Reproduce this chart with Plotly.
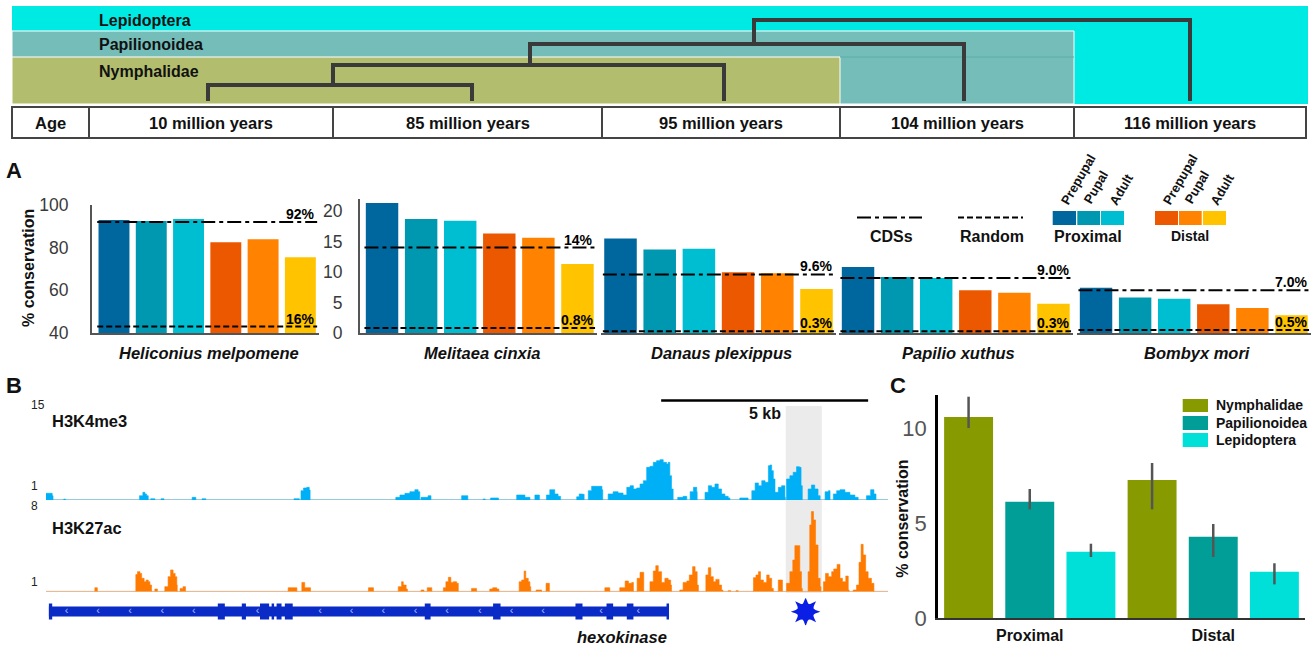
import plotly.graph_objects as go

W, H = 1314, 648
FONT = "Liberation Sans, Arial, sans-serif"

# ---------------- data ----------------
# Panel A: % conservation of enhancers per species (Prepupal, Pupal, Adult)
species = ["Heliconius melpomene", "Melitaea cinxia", "Danaus plexippus",
           "Papilio xuthus", "Bombyx mori"]
stages = ["Prepupal", "Pupal", "Adult"]
proximal = {
    "Heliconius melpomene": [93.0, 92.5, 93.4],
    "Melitaea cinxia": [21.3, 18.7, 18.4],
    "Danaus plexippus": [15.5, 13.7, 13.8],
    "Papilio xuthus": [10.8, 9.2, 9.0],
    "Bombyx mori": [7.4, 5.8, 5.6],
}
distal = {
    "Heliconius melpomene": [82.5, 83.9, 75.5],
    "Melitaea cinxia": [16.3, 15.6, 11.3],
    "Danaus plexippus": [9.95, 9.8, 7.2],
    "Papilio xuthus": [7.0, 6.6, 4.8],
    "Bombyx mori": [4.7, 4.1, 2.9],
}
cds_pct = [92, 14, 9.6, 9.0, 7.0]
random_pct = [16, 0.8, 0.3, 0.3, 0.5]
cds_labels = ["92%", "14%", "9.6%", "9.0%", "7.0%"]
random_labels = ["16%", "0.8%", "0.3%", "0.3%", "0.5%"]

# Phylogeny age table
age_labels = ["10 million years", "85 million years", "95 million years",
              "104 million years", "116 million years"]
clades = ["Lepidoptera", "Papilionoidea", "Nymphalidae"]

# Panel B: ChIP signal around hexokinase, peaks as (kb, signal) points
h3k4me3_peaks = [
    [(0.00, 1.06), (0.10, 1.06), (0.15, 0.68), (0.17, 0)],
    [(0.43, 0), (0.43, 0.15), (0.47, 0.15), (0.47, 0)],
    [(2.25, 0), (2.26, 0.68), (2.34, 1.21), (2.39, 0.95), (2.43, 0.68), (2.47, 0.68), (2.47, 0)],
    [(2.53, 0), (2.53, 0.2), (2.63, 0.2), (2.63, 0)],
    [(2.78, 0), (2.78, 0.2), (2.85, 0.2), (2.85, 0)],
    [(3.52, 0), (3.53, 0.42), (3.61, 0.42), (3.62, 0)],
    [(3.77, 0), (3.77, 0.2), (3.86, 0.2), (3.86, 0)],
    [(5.99, 0), (5.99, 0.2), (6.12, 0.2), (6.12, 0)],
    [(6.16, 0), (6.16, 1.47), (6.22, 1.9), (6.30, 2.0), (6.36, 1.58), (6.38, 0)],
    [(8.45, 0), (8.45, 0.42), (8.53, 0.42), (8.55, 0.79), (8.65, 0.79), (8.67, 1.05),
     (8.79, 1.31), (8.91, 1.63), (8.99, 1.31), (9.03, 0.9), (9.03, 0)],
    [(9.06, 0), (9.06, 0.42), (9.20, 0.42), (9.23, 0.68), (9.30, 0.68), (9.30, 0)],
    [(10.04, 0), (10.04, 0.68), (10.19, 0.68), (10.19, 0)],
    [(10.56, 0), (10.56, 0.16), (10.61, 0.16), (10.61, 0)],
    [(10.74, 0), (10.74, 0.32), (10.93, 0.32), (10.93, 0)],
    [(11.37, 0), (11.37, 0.79), (11.53, 0.79), (11.57, 0.42), (11.69, 0.42), (11.69, 0)],
    [(11.81, 0), (11.81, 0.79), (11.92, 0.79), (11.92, 0)],
    [(12.09, 0), (12.09, 0.79), (12.17, 1.63), (12.25, 1.63), (12.29, 0.95), (12.37, 0.58),
     (12.43, 0.58), (12.43, 0)],
    [(12.80, 0), (12.82, 0.5), (12.88, 0.95), (12.96, 0.9), (13.00, 0)],
    [(13.10, 0), (13.10, 1.47), (13.18, 2.16), (13.38, 2.16), (13.43, 1.6), (13.45, 0)],
    [(13.54, 0), (13.58, 0.95), (13.70, 1.31), (13.82, 1.10), (13.94, 0.79), (14.03, 2.0),
     (14.11, 2.26), (14.19, 1.74), (14.27, 1.9), (14.35, 2.53), (14.43, 3.05), (14.51, 5.16),
     (14.59, 5.32), (14.67, 5.95), (14.75, 6.21), (14.83, 6.37), (14.91, 5.95), (14.99, 5.69),
     (15.03, 5.95), (15.07, 3.84), (15.11, 1.74), (15.15, 0)],
    [(15.26, 0), (15.26, 0.42), (15.35, 0.42), (15.39, 0.58), (15.48, 0.58), (15.48, 0)],
    [(15.51, 0), (15.56, 1.31), (15.64, 2.0), (15.72, 1.31), (15.73, 0)],
    [(15.90, 0), (15.92, 1.21), (16.00, 2.26), (16.08, 2.0), (16.16, 2.53), (16.24, 1.74),
     (16.32, 0.95), (16.40, 0.58), (16.48, 0.32), (16.52, 0)],
    [(16.76, 0), (16.76, 0.32), (16.96, 0.32), (16.96, 0)],
    [(17.00, 0), (17.05, 1.47), (17.13, 2.69), (17.21, 2.26), (17.29, 3.05), (17.37, 2.79),
     (17.45, 5.42), (17.49, 5.53), (17.53, 4.63), (17.57, 3.32), (17.61, 1.21), (17.69, 2.0),
     (17.77, 2.26), (17.85, 0.42), (17.86, 0)],
    [(17.87, 0), (17.89, 3.32), (17.97, 3.84), (18.05, 4.37), (18.13, 5.26), (18.20, 5.16),
     (18.24, 2.26), (18.27, 0)],
    [(18.39, 0), (18.41, 1.74), (18.49, 2.37), (18.57, 1.74), (18.65, 0.68), (18.70, 0)],
    [(18.76, 0), (18.82, 1.31), (18.90, 1.47), (18.94, 0)],
    [(18.98, 0), (19.02, 0.95), (19.10, 1.47), (19.18, 1.63), (19.30, 1.21), (19.42, 0.79),
     (19.54, 0.42), (19.62, 0)],
    [(19.78, 0), (19.82, 0.68), (19.92, 1.63), (20.00, 0.95), (20.05, 0)],
]
h3k27ac_peaks = [
    [(1.18, 0), (1.18, 0.37), (1.24, 0.37), (1.24, 0)],
    [(2.17, 0), (2.17, 1.6), (2.21, 1.87), (2.27, 1.71), (2.31, 1.25), (2.37, 0.93), (2.42, 1.09),
     (2.47, 0.93), (2.51, 0.62), (2.55, 0)],
    [(2.63, 0), (2.63, 0.25), (2.69, 0.25), (2.69, 0)],
    [(2.85, 0), (2.87, 0.47), (2.95, 1.40), (3.01, 2.03), (3.07, 1.71), (3.12, 1.40), (3.16, 0.62),
     (3.17, 0)],
    [(3.24, 0), (3.24, 0.31), (3.30, 0.31), (3.31, 0.47), (3.37, 0.47), (3.37, 0)],
    [(5.85, 0), (5.85, 0.37), (6.06, 0.37), (6.06, 0)],
    [(6.18, 0), (6.18, 0.87), (6.24, 0.87), (6.25, 0.37), (6.39, 0.37), (6.39, 0)],
    [(7.79, 0), (7.79, 0.37), (7.91, 0.37), (7.91, 0)],
    [(8.47, 0), (8.51, 0.47), (8.59, 0.93), (8.63, 0.62), (8.70, 0.25), (8.73, 0)],
    [(9.06, 0), (9.06, 0.16), (9.13, 0.16), (9.13, 0)],
    [(9.21, 0), (9.21, 0.37), (9.32, 0.37), (9.32, 0)],
    [(9.56, 0), (9.60, 0.37), (9.66, 0.93), (9.72, 1.34), (9.78, 0.87), (9.84, 0.93), (9.92, 0.78),
     (9.96, 0)],
    [(10.28, 0), (10.28, 0.31), (10.40, 0.31), (10.40, 0)],
    [(10.71, 0), (10.72, 0.25), (10.79, 0.37), (10.89, 0.25), (10.94, 0)],
    [(11.39, 0), (11.43, 0.93), (11.49, 1.09), (11.55, 1.93), (11.59, 1.25), (11.65, 0.93),
     (11.69, 0.47), (11.71, 0)],
    [(11.84, 0), (11.84, 0.16), (11.97, 0.16), (11.97, 0)],
    [(12.08, 0), (12.08, 0.78), (12.16, 0.78), (12.16, 0)],
    [(13.50, 0), (13.50, 0.37), (13.62, 0.37), (13.62, 0)],
    [(13.85, 0), (13.86, 0.37), (13.99, 1.0), (14.07, 0.78), (14.15, 0.87), (14.19, 0)],
    [(14.25, 0), (14.28, 1.25), (14.35, 1.81), (14.43, 1.81), (14.44, 0)],
    [(14.55, 0), (14.59, 0.93), (14.67, 1.93), (14.73, 2.43), (14.79, 1.87), (14.87, 0.87),
     (14.95, 1.25), (15.03, 1.09), (15.09, 0.62), (15.11, 0)],
    [(15.29, 0), (15.31, 0.16), (15.39, 0.87), (15.48, 1.0), (15.54, 1.56), (15.62, 2.34),
     (15.68, 1.87), (15.73, 0.62), (15.76, 0)],
    [(15.90, 0), (15.94, 1.56), (16.00, 2.24), (16.06, 1.40), (16.12, 0.93), (16.18, 1.15),
     (16.26, 0.62), (16.32, 0.16), (16.35, 0)],
    [(16.48, 0), (16.48, 0.1), (16.54, 0.1), (16.54, 0)],
    [(16.67, 0), (16.67, 0.1), (16.72, 0.1), (16.72, 0)],
    [(17.05, 0), (17.09, 1.31), (17.15, 1.56), (17.21, 1.87), (17.26, 1.09), (17.33, 0.87),
     (17.41, 1.56), (17.47, 1.25), (17.53, 0.31), (17.57, 0)],
    [(17.69, 0), (17.69, 1.09), (17.79, 1.09), (17.79, 0)],
    [(17.87, 0), (17.89, 0.78), (17.97, 1.87), (18.04, 2.96), (18.09, 4.30), (18.17, 4.30),
     (18.21, 1.87), (18.25, 0.31), (18.27, 0)],
    [(18.37, 0), (18.41, 1.87), (18.45, 6.23), (18.49, 7.48), (18.54, 6.70), (18.59, 4.36),
     (18.65, 1.25), (18.70, 0.47), (18.72, 0)],
    [(18.74, 0), (18.78, 0.93), (18.83, 1.71), (18.90, 1.40), (18.98, 1.87), (19.03, 2.12),
     (19.11, 2.55), (19.18, 1.25), (19.24, 0.93), (19.32, 1.46), (19.38, 0.16), (19.40, 0)],
    [(19.46, 0), (19.50, 0.16), (19.58, 0.62), (19.64, 2.74), (19.69, 4.42), (19.74, 3.43),
     (19.80, 1.87), (19.86, 1.25), (19.94, 0.78), (20.00, 0)],
]
locus_kb = 20.34
gene_span = (0.07, 15.05)
gene_exons = [(0.07, 0.15), (4.15, 4.32), (4.73, 4.83), (5.17, 5.39), (5.45, 5.51), (5.57, 5.69),
              (5.77, 5.96), (9.15, 9.29), (10.80, 10.98), (12.79, 12.96), (13.54, 13.70),
              (14.03, 14.19), (14.99, 15.05)]
strand_marks = [0.50, 1.26, 2.03, 2.81, 3.57, 5.11, 6.62, 7.38, 8.15, 8.93, 9.69, 10.48,
                11.25, 12.01, 13.41, 14.31]
enhancer_kb = 18.35
highlight_kb = (17.87, 18.74)
scale_bar_kb = (14.86, 19.86)

# Panel C: conservation by clade, with error ranges
c_groups = ["Proximal", "Distal"]
c_values = {"Nymphalidae": [10.58, 7.26], "Papilionoidea": [6.12, 4.28], "Lepidoptera": [3.49, 2.44]}
c_upper = {"Nymphalidae": [11.65, 8.16], "Papilionoidea": [6.79, 4.95], "Lepidoptera": [3.91, 2.88]}
c_lower = {"Nymphalidae": [10.0, 5.72], "Papilionoidea": [5.72, 3.21], "Lepidoptera": [3.21, 1.77]}

# ---------------- styling ----------------
PROX_COLORS = ["#00669E", "#0097B0", "#00BED2"]
DIST_COLORS = ["#EC5800", "#FF8200", "#FFC300"]
CLADE_COLORS = {"Nymphalidae": "#879B00", "Papilionoidea": "#009E96", "Lepidoptera": "#00E0D8"}
BAND_COLORS = {"Lepidoptera": "#00EAE4", "Papilionoidea": "#74BDB9", "Nymphalidae": "#B2BD6E"}
TREE = "#3a3a3a"
K4_COLOR = "#00B0F6"
K27_COLOR = "#FF7A00"
GENE_COLOR = "#0A2BC6"
DASHDOT = "14px,4px,4px,4px"
DASHED = "6px,3px"


def fx(x):
    return x / W


def fy(y):
    return 1 - y / H


def dom_x(x0, x1):
    return [fx(x0), fx(x1)]


def dom_y(ytop, ybot):
    return [fy(ybot), fy(ytop)]


shapes = []
annotations = []


def rect(x0, y0, x1, y1, fill, line=None, lw=0, layer="above"):
    shapes.append(dict(type="rect", xref="paper", yref="paper",
                       x0=fx(x0), x1=fx(x1), y0=fy(y1), y1=fy(y0),
                       fillcolor=fill, layer=layer,
                       line=dict(color=line or fill, width=lw)))


def seg(x0, y0, x1, y1, color, width, dash="solid"):
    shapes.append(dict(type="line", xref="paper", yref="paper",
                       x0=fx(x0), x1=fx(x1), y0=fy(y0), y1=fy(y1),
                       line=dict(color=color, width=width, dash=dash)))


def path(points, color, width):
    d = "M " + " L ".join(f"{fx(x):.5f},{fy(y):.5f}" for x, y in points)
    shapes.append(dict(type="path", xref="paper", yref="paper", path=d,
                       line=dict(color=color, width=width)))


def text(x, y, s, size=15, bold=True, italic=False, color="#111", xanchor="center", angle=0):
    if italic:
        s = f"<i>{s}</i>"
    if bold:
        s = f"<b>{s}</b>"
    annotations.append(dict(x=fx(x), y=fy(y), xref="paper", yref="paper", text=s,
                            showarrow=False, xanchor=xanchor, yanchor="middle",
                            textangle=angle,
                            font=dict(size=size, color=color, family=FONT)))


fig = go.Figure()
layout_axes = {}

# ---------------- phylogeny header ----------------
rect(12, 6, 1308, 104, BAND_COLORS["Lepidoptera"])
rect(12, 31, 1074, 104, BAND_COLORS["Papilionoidea"], line="white", lw=1)
rect(12, 57, 840, 104, BAND_COLORS["Nymphalidae"], line="white", lw=1)
seg(840, 57, 1074, 57, "#5aaea9", 1)
for name, y in zip(clades, [20, 45, 71]):
    text(97, y, name, size=16, xanchor="left")

path([(208, 101), (208, 85), (472, 85), (472, 101)], TREE, 4)
path([(333, 85), (333, 65), (724, 65), (724, 101)], TREE, 4)
path([(530, 65), (530, 44), (964, 44), (964, 101)], TREE, 4)
path([(754, 44), (754, 20), (1190, 20), (1190, 101)], TREE, 4)

rect(12, 107, 1306, 138, "white", line="#444", lw=2)
cells = [12, 89, 333, 602, 840, 1074, 1306]
for xb in cells[1:-1]:
    seg(xb, 107, xb, 138, "#444", 2)
text((cells[0] + cells[1]) / 2, 123, "Age", size=16.5)
for i, lab in enumerate(age_labels):
    text((cells[i + 1] + cells[i + 2]) / 2, 123, lab, size=16.5)

# ---------------- panel A ----------------
text(14, 170, "A", size=22)
text(28, 268, "% conservation", size=16, angle=-90)

panel_a = [
    # (x domain px, y top px, y range, show y axis, x range, ticks, tick offset)
    ((92, 319), 205, [40, 100], True, [-0.59, 5.5], [40, 60, 80, 100], 18),
    ((360, 597), 198.8, [0, 22], True, [-0.564, 5.5], [0, 5, 10, 15, 20], 12),
    ((600.9, 836.1), 198.8, [0, 22], False, [-0.5, 5.5], [], 0),
    ((838.5, 1073), 198.8, [0, 22], False, [-0.5, 5.5], [], 0),
    ((1076.5, 1311), 198.8, [0, 22], False, [-0.5, 5.5], [], 0),
]
bar_colors = PROX_COLORS + DIST_COLORS
for i, sp in enumerate(species):
    n = "" if i == 0 else str(i + 1)
    (xd0, xd1), ytop, yr, show_y, xr, tv, tlen = panel_a[i]
    layout_axes[f"xaxis{n}"] = dict(domain=dom_x(xd0, xd1), range=xr, anchor=f"y{n}",
                                    showgrid=False, zeroline=False, showticklabels=False,
                                    showline=True, linecolor="#555", linewidth=2,
                                    automargin=False, fixedrange=True)
    layout_axes[f"yaxis{n}"] = dict(domain=dom_y(ytop, 333), range=yr, anchor=f"x{n}",
                                    showgrid=False, zeroline=False, showline=show_y,
                                    linecolor="#555", linewidth=2, automargin=False,
                                    showticklabels=show_y, tickvals=tv,
                                    ticks="outside" if show_y else "", ticklen=tlen,
                                    tickcolor="rgba(0,0,0,0)",
                                    tickfont=dict(size=17.5, color="#3a3a3a", family=FONT))
    vals = proximal[sp] + distal[sp]
    fig.add_trace(go.Bar(x=list(range(6)), y=vals, width=0.83,
                         marker=dict(color=bar_colors, line=dict(width=0)),
                         xaxis=f"x{n}", yaxis=f"y{n}", showlegend=False))
    lo, hi = yr
    # random background sits below a truncated axis floor: pin it just above the floor
    rnd = random_pct[i] if random_pct[i] >= lo else lo + 0.05 * (hi - lo)
    cds = cds_pct[i]
    fig.add_trace(go.Scatter(x=[-0.45, 5.45], y=[cds, cds], mode="lines",
                             line=dict(color="black", width=2, dash=DASHDOT),
                             xaxis=f"x{n}", yaxis=f"y{n}", showlegend=False))
    fig.add_trace(go.Scatter(x=[-0.45, 5.45], y=[rnd, rnd], mode="lines",
                             line=dict(color="black", width=2, dash=DASHED),
                             xaxis=f"x{n}", yaxis=f"y{n}", showlegend=False))
    for yv, lab in [(cds, cds_labels[i]), (rnd, random_labels[i])]:
        annotations.append(dict(x=5.45, y=yv, xref=f"x{n}", yref=f"y{n}",
                                text=f"<b>{lab}</b>", showarrow=False,
                                xanchor="right", yanchor="bottom", yshift=-2,
                                font=dict(size=14, color="black", family=FONT)))
    text((xd0 + xd1) / 2 + 3, 353, sp, size=16.5, italic=True)

# Panel A legend
seg(857, 217.5, 922, 217.5, "black", 2, DASHDOT)
text(891.7, 236, "CDSs", size=16)
seg(958, 217.5, 1023, 217.5, "black", 2, DASHED)
text(991.7, 236, "Random", size=16)
prox_box = [(1052.7, 1076), (1077.3, 1100), (1101, 1124)]
dist_box = [(1155, 1178), (1179, 1201.7), (1203, 1226)]
for (x0, x1), c in zip(prox_box, PROX_COLORS):
    rect(x0, 211, x1, 225, c)
for (x0, x1), c in zip(dist_box, DIST_COLORS):
    rect(x0, 211, x1, 225, c)
text(1088, 236, "Proximal", size=16)
text(1190, 236, "Distal", size=14)
for (cx, cy), lab in zip([(1078, 179), (1096, 188), (1121, 189)], stages):
    text(cx, cy, lab, size=13, angle=-60)
for (cx, cy), lab in zip([(1180, 179), (1197, 188), (1222, 189)], stages):
    text(cx, cy, lab, size=13, angle=-60)

# ---------------- panel B ----------------
text(14, 385, "B", size=22)
layout_axes["xaxis6"] = dict(domain=dom_x(46, 888), range=[0, locus_kb], anchor="y6",
                             visible=False, fixedrange=True, automargin=False)
layout_axes["yaxis6"] = dict(domain=dom_y(405, 500), range=[0, 15], anchor="x6",
                             visible=False, automargin=False)
layout_axes["yaxis7"] = dict(domain=dom_y(506, 591.7), range=[0, 8], anchor="x6",
                             visible=False, automargin=False)
layout_axes["yaxis8"] = dict(domain=dom_y(598.2, 625.2), range=[-1, 1], anchor="x6",
                             visible=False, automargin=False)

shapes.append(dict(type="rect", xref="x6", yref="paper", x0=highlight_kb[0], x1=highlight_kb[1],
                   y0=fy(593), y1=fy(406), fillcolor="#ebebeb", layer="below",
                   line=dict(width=0)))
for ya in ["y6", "y7"]:
    shapes.append(dict(type="line", xref="x6", yref=ya, x0=0, x1=locus_kb, y0=0, y1=0,
                       layer="below", line=dict(color="#d6d6d6", width=2)))


def profile(peaks):
    xs, ys = [0.0], [0.0]
    for pk in peaks:
        for k, v in pk:
            xs.append(k)
            ys.append(v)
    xs.append(locus_kb)
    ys.append(0.0)
    return xs, ys


for peaks, color, ya in [(h3k4me3_peaks, K4_COLOR, "y6"), (h3k27ac_peaks, K27_COLOR, "y7")]:
    xs, ys = profile(peaks)
    fig.add_trace(go.Scatter(x=xs, y=ys, mode="lines", fill="tozeroy", fillcolor=color,
                             line=dict(color=color, width=0.6, shape="hv"),
                             xaxis="x6", yaxis=ya, showlegend=False, hoverinfo="skip"))

# gene model (drawn beneath the strand arrows)
shapes.append(dict(type="rect", xref="x6", yref="paper", x0=gene_span[0], x1=gene_span[1],
                   y0=fy(616.5), y1=fy(606.5), fillcolor=GENE_COLOR, layer="below",
                   line=dict(width=0)))
for e0, e1 in gene_exons:
    shapes.append(dict(type="rect", xref="x6", yref="paper", x0=e0, x1=e1,
                       y0=fy(619.5), y1=fy(603.5), fillcolor=GENE_COLOR, layer="below",
                       line=dict(width=0)))
fig.add_trace(go.Scatter(x=strand_marks, y=[0] * len(strand_marks), mode="text",
                         text=["‹"] * len(strand_marks),
                         textfont=dict(size=11, color="#a9bcff", family=FONT),
                         xaxis="x6", yaxis="y8", showlegend=False, hoverinfo="skip"))
for ang in [0, 45]:
    fig.add_trace(go.Scatter(x=[enhancer_kb], y=[0], mode="markers",
                             marker=dict(symbol="star-square", size=19, color="#0a1ee6",
                                         angle=ang, line=dict(width=0)),
                             xaxis="x6", yaxis="y8", showlegend=False, hoverinfo="skip"))

shapes.append(dict(type="line", xref="x6", yref="paper", x0=scale_bar_kb[0], x1=scale_bar_kb[1],
                   y0=fy(400.5), y1=fy(400.5), line=dict(color="black", width=2.5)))
text(765, 414, "5 kb", size=16)
text(50, 421, "H3K4me3", size=16.5, xanchor="left")
text(50, 528, "H3K27ac", size=16.5, xanchor="left")
text(38, 405, "15", size=12, bold=False, color="#222")
text(34, 486, "1", size=12, bold=False, color="#222")
text(34, 506, "8", size=12, bold=False, color="#222")
text(34, 582, "1", size=12, bold=False, color="#222")
text(621.7, 637, "hexokinase", size=16.5, italic=True)

# ---------------- panel C ----------------
text(898, 385, "C", size=22)
layout_axes["xaxis9"] = dict(domain=dom_x(938, 1305), range=[-0.5, 5.5], anchor="y9",
                             showgrid=False, zeroline=False, showline=True, linecolor="#333",
                             linewidth=2, tickvals=[1, 4], automargin=False,
                             ticktext=[f"<b>{g}</b>" for g in c_groups],
                             ticks="outside", ticklen=2, tickcolor="rgba(0,0,0,0)",
                             tickfont=dict(size=16, color="#111", family=FONT), fixedrange=True)
layout_axes["yaxis9"] = dict(domain=dom_y(395, 618), range=[0, 11.74], anchor="x9",
                             showgrid=False, zeroline=False, showline=True, linecolor="black",
                             linewidth=2.5, tickvals=[0, 5, 10], ticks="outside", ticklen=4,
                             tickcolor="rgba(0,0,0,0)", automargin=False,
                             tickfont=dict(size=22, color="#555", family=FONT))
for j, clade in enumerate(["Nymphalidae", "Papilionoidea", "Lepidoptera"]):
    vals = c_values[clade]
    fig.add_trace(go.Bar(
        x=[j, j + 3], y=vals, width=0.8,
        marker=dict(color=CLADE_COLORS[clade], line=dict(width=0)),
        error_y=dict(type="data", symmetric=False,
                     array=[u - v for u, v in zip(c_upper[clade], vals)],
                     arrayminus=[v - l for l, v in zip(c_lower[clade], vals)],
                     color="#555", thickness=2.5, width=0),
        xaxis="x9", yaxis="y9", showlegend=False))
text(901.7, 519, "% conservation", size=16, angle=-90)
for (y0, y1), clade in zip([(399, 412), (416, 430), (433, 447)],
                           ["Nymphalidae", "Papilionoidea", "Lepidoptera"]):
    rect(1182.7, y0, 1208, y1, CLADE_COLORS[clade])
    text(1214, (y0 + y1) / 2, clade, size=14, xanchor="left")

fig.update_layout(
    width=W, height=H, margin=dict(l=0, r=0, t=0, b=0, autoexpand=False),
    paper_bgcolor="white", plot_bgcolor="rgba(0,0,0,0)",
    barmode="overlay", showlegend=False, hovermode=False,
    font=dict(family=FONT),
    shapes=shapes, annotations=annotations,
    **layout_axes,
)

fig.write_html("out.html")
